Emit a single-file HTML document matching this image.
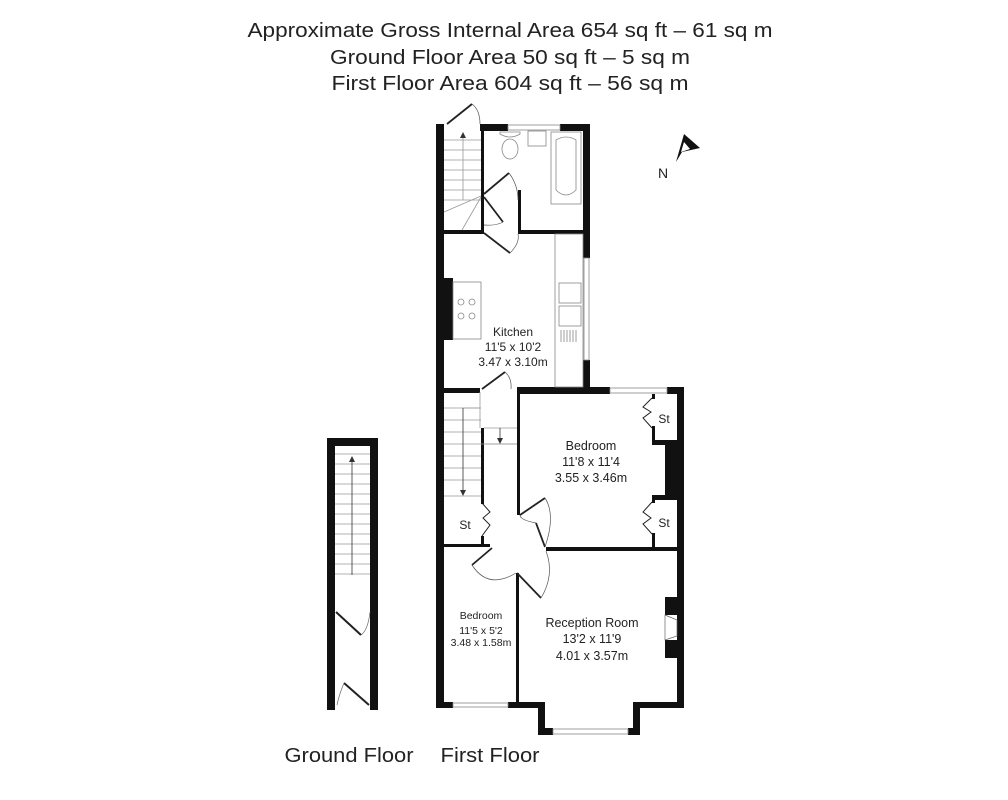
<!DOCTYPE html>
<html><head><meta charset="utf-8"><style>
html,body{margin:0;padding:0;background:#fff;}
svg{display:block;}
text{font-family:"Liberation Sans","DejaVu Sans",sans-serif;fill:#222;}
</style></head><body>
<svg width="1008" height="800" viewBox="0 0 1008 800" xmlns="http://www.w3.org/2000/svg">
<rect width="1008" height="800" fill="#fff"/>
<!-- header -->
<text x="510" y="37" font-size="20" text-anchor="middle" textLength="525" lengthAdjust="spacingAndGlyphs">Approximate Gross Internal Area 654 sq ft – 61 sq m</text>
<text x="510" y="64" font-size="20" text-anchor="middle" textLength="360" lengthAdjust="spacingAndGlyphs">Ground Floor Area 50 sq ft – 5 sq m</text>
<text x="510" y="90" font-size="20" text-anchor="middle" textLength="357" lengthAdjust="spacingAndGlyphs">First Floor Area 604 sq ft – 56 sq m</text>

<!-- Ground floor -->
<g fill="#111">
<rect x="327" y="438" width="51" height="8"/>
<rect x="327" y="438" width="8" height="272"/>
<rect x="370" y="438" width="8" height="272"/>
</g>
<g stroke="#999" stroke-width="0.8">
<line x1="335" y1="454" x2="370" y2="454"/><line x1="335" y1="464" x2="370" y2="464"/>
<line x1="335" y1="474" x2="370" y2="474"/><line x1="335" y1="484" x2="370" y2="484"/>
<line x1="335" y1="494" x2="370" y2="494"/><line x1="335" y1="504" x2="370" y2="504"/>
<line x1="335" y1="514" x2="370" y2="514"/><line x1="335" y1="524" x2="370" y2="524"/>
<line x1="335" y1="534" x2="370" y2="534"/><line x1="335" y1="544" x2="370" y2="544"/>
<line x1="335" y1="554" x2="370" y2="554"/><line x1="335" y1="564" x2="370" y2="564"/>
<line x1="335" y1="574" x2="370" y2="574"/>
</g>
<line x1="352" y1="575" x2="352" y2="460" stroke="#333" stroke-width="0.8"/>
<path d="M349,462 L352,456 L355,462 Z" fill="#333"/>
<g fill="none" stroke="#222" stroke-width="2">
<line x1="336" y1="612" x2="361" y2="635"/>
<line x1="344" y1="683" x2="369" y2="705"/>
</g>
<g fill="none" stroke="#666" stroke-width="0.7">
<path d="M370,612 Q368,630 361,635"/>
<path d="M344,683 Q339,695 337,705"/>
</g>

<!-- First floor walls -->
<g fill="#111">
<rect x="436" y="124" width="8" height="584"/>
<rect x="480" y="124" width="28" height="7"/>
<rect x="560" y="124" width="30" height="7"/>
<rect x="583" y="124" width="7" height="134"/>
<rect x="583" y="360" width="7" height="34"/>
<rect x="481" y="131" width="3" height="102"/>
<rect x="518" y="190" width="3" height="43"/>
<rect x="444" y="230" width="40" height="4"/>
<rect x="518" y="230" width="72" height="4"/>
<rect x="444" y="388" width="36" height="5"/>
<rect x="517" y="387" width="93" height="7"/>
<rect x="667" y="387" width="17" height="7"/>
<rect x="677" y="387" width="7" height="321"/>
<rect x="517" y="394" width="3" height="121"/>
<rect x="481" y="428" width="3" height="72"/>
<rect x="444" y="544" width="46" height="3"/>
<rect x="546" y="547" width="138" height="4"/>
<rect x="516" y="573" width="3" height="135"/>
<rect x="436" y="702" width="17" height="6"/>
<rect x="508" y="702" width="37" height="6"/>
<rect x="633" y="702" width="51" height="6"/>
<rect x="538" y="702" width="7" height="33"/>
<rect x="633" y="702" width="7" height="33"/>
<rect x="538" y="728" width="15" height="7"/>
<rect x="628" y="728" width="12" height="7"/>
<!-- chimney breasts -->
<rect x="444" y="278" width="9" height="62"/>
<rect x="665" y="445" width="19" height="50"/>
<rect x="652" y="440" width="25" height="5"/>
<rect x="652" y="495" width="25" height="5"/>
<rect x="665" y="597" width="15" height="18"/>
<rect x="665" y="640" width="15" height="18"/>
</g>
<path d="M665,615 L677,620 L677,636 L665,640 Z" fill="#fff" stroke="#666" stroke-width="0.7"/>
<!-- windows -->
<g fill="#fff" stroke="#888" stroke-width="0.8">
<rect x="508" y="125" width="52" height="5"/>
<rect x="584" y="258" width="5" height="102"/>
<rect x="610" y="388" width="57" height="5"/>
<rect x="453" y="703" width="55" height="4"/>
<rect x="553" y="729" width="75" height="5"/>
</g>
<!-- upper stairs -->
<g stroke="#999" stroke-width="0.8">
<line x1="444" y1="140" x2="481" y2="140"/><line x1="444" y1="150" x2="481" y2="150"/>
<line x1="444" y1="160" x2="481" y2="160"/><line x1="444" y1="170" x2="481" y2="170"/>
<line x1="444" y1="180" x2="481" y2="180"/><line x1="444" y1="190" x2="481" y2="190"/>
<line x1="444" y1="200" x2="481" y2="200"/>
<line x1="444" y1="212" x2="481" y2="196"/><line x1="462" y1="230" x2="481" y2="197"/>
<line x1="463" y1="133" x2="463" y2="200"/>
</g>
<path d="M460,138 L463,132 L466,138 Z" fill="#333"/>
<!-- doors -->
<g fill="none" stroke="#222" stroke-width="1.8">
<line x1="447" y1="124" x2="472" y2="104"/>
<line x1="484" y1="194" x2="509" y2="173"/>
<line x1="484" y1="197" x2="503" y2="222"/>
<line x1="484" y1="233" x2="510" y2="253"/>
<line x1="482" y1="389" x2="505" y2="372"/>
<line x1="520" y1="515" x2="545" y2="498"/>
<line x1="545" y1="547" x2="536" y2="523"/>
<line x1="517" y1="573" x2="541" y2="598"/>
<line x1="492" y1="548" x2="472" y2="565"/>
</g>
<g fill="none" stroke="#555" stroke-width="0.7">
<path d="M472,104 Q480,110 480,124"/>
<path d="M509,173 Q518,185 518,200"/>
<path d="M503,222 Q496,226 484,225"/>
<path d="M510,253 Q520,243 518,234"/>
<path d="M505,372 Q512,378 511,389"/>
<path d="M545,498 Q556,515 545,547"/>
<path d="M541,598 Q555,575 546,551"/>
<path d="M472,565 Q488,590 516,573"/>
<path d="M536,523 Q520,520 520,515"/>
</g>
<!-- St doors -->
<g fill="none" stroke="#222" stroke-width="1">
<path d="M482,503 L490,512 L483,518 L490,525 L482,536"/>
<path d="M652,398 L643,407 L651,412 L643,418 L652,428"/>
<path d="M652,502 L643,512 L651,518 L643,524 L652,534"/>
</g>
<g fill="#111">
<rect x="652" y="394" width="3" height="5"/><rect x="652" y="426" width="3" height="19"/>
<rect x="652" y="495" width="3" height="8"/><rect x="652" y="533" width="3" height="14"/>
<rect x="481" y="500" width="3" height="4"/><rect x="481" y="536" width="3" height="8"/>
</g>
<!-- lower stairs -->
<g stroke="#999" stroke-width="0.8">
<line x1="444" y1="408" x2="481" y2="408"/><line x1="444" y1="420" x2="481" y2="420"/>
<line x1="444" y1="432" x2="481" y2="432"/><line x1="444" y1="444" x2="517" y2="444"/>
<line x1="444" y1="456" x2="481" y2="456"/><line x1="444" y1="468" x2="481" y2="468"/>
<line x1="444" y1="480" x2="481" y2="480"/><line x1="444" y1="496" x2="481" y2="496"/>
<line x1="484" y1="428" x2="517" y2="428"/><line x1="484" y1="444" x2="517" y2="444"/>
<line x1="463" y1="408" x2="480" y2="408"/><line x1="480" y1="392" x2="480" y2="428"/>
</g>
<line x1="463" y1="408" x2="463" y2="492" stroke="#333" stroke-width="0.8"/>
<path d="M460,490 L463,496 L466,490 Z" fill="#333"/>
<line x1="500" y1="428" x2="500" y2="440" stroke="#333" stroke-width="0.8"/>
<path d="M497,438 L500,444 L503,438 Z" fill="#333"/>
<!-- bathroom fixtures -->
<g fill="none" stroke="#888" stroke-width="0.8">
<ellipse cx="510" cy="149" rx="8" ry="10"/>
<path d="M500,134 Q510,140 520,134 L520,132 L500,132 Z"/>
<rect x="528" y="131" width="18" height="15"/>
<rect x="551" y="132" width="30" height="72"/>
<path d="M556,140 Q566,134 576,140 L576,190 Q566,200 556,190 Z"/>
<rect x="555" y="234" width="28" height="153"/>
<rect x="559" y="283" width="22" height="20"/><rect x="559" y="306" width="22" height="20"/>
<path d="M561,330 v12 M564,330 v12 M567,330 v12 M570,330 v12 M573,330 v12 M576,330 v12"/>
<rect x="453" y="282" width="28" height="57"/>
<circle cx="461" cy="302" r="3"/><circle cx="472" cy="302" r="3"/>
<circle cx="461" cy="316" r="3"/><circle cx="472" cy="316" r="3"/>
</g>
<!-- north -->
<path d="M684,134 L676,162 L682,152 L700,148 Z" fill="#111"/>
<path d="M684,142 L681,152 L690,149 Z" fill="#fff"/>
<text x="658" y="178" font-size="14">N</text>
<!-- labels -->
<g text-anchor="middle">
<text x="513" y="336" font-size="12">Kitchen</text>
<text x="513" y="351" font-size="12">11'5 x 10'2</text>
<text x="513" y="366" font-size="12">3.47 x 3.10m</text>
<text x="591" y="450" font-size="12.5">Bedroom</text>
<text x="591" y="466" font-size="12.5">11'8 x 11'4</text>
<text x="591" y="482" font-size="12.5">3.55 x 3.46m</text>
<text x="481" y="619" font-size="10.5">Bedroom</text>
<text x="481" y="634" font-size="10.5">11'5 x 5'2</text>
<text x="481" y="646" font-size="10.5">3.48 x 1.58m</text>
<text x="592" y="627" font-size="12.5">Reception Room</text>
<text x="592" y="643" font-size="12.5">13'2 x 11'9</text>
<text x="592" y="660" font-size="12.5">4.01 x 3.57m</text>
<text x="465" y="529" font-size="12">St</text>
<text x="664" y="423" font-size="12">St</text>
<text x="664" y="527" font-size="12">St</text>
<text x="349" y="762" font-size="20" textLength="129" lengthAdjust="spacingAndGlyphs">Ground Floor</text>
<text x="490" y="762" font-size="20" textLength="99" lengthAdjust="spacingAndGlyphs">First Floor</text>
</g>
</svg>
</body></html>
